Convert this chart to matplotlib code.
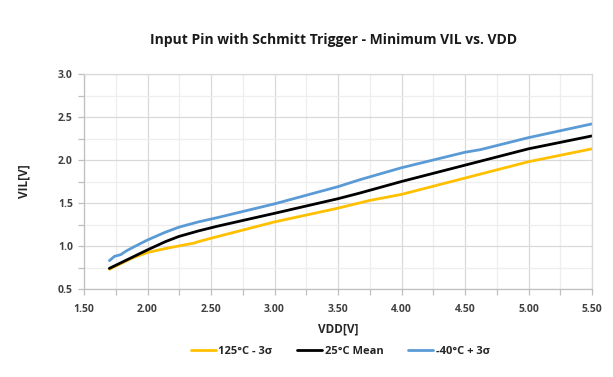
import matplotlib
matplotlib.use("Agg")
import matplotlib.pyplot as plt
from matplotlib.ticker import MultipleLocator, FormatStrFormatter

# ---- data ----
vdd_hot = [1.70, 1.88, 2.00, 2.14, 2.245, 2.37, 2.40, 2.50, 3.00, 3.50, 3.75, 4.00, 4.50, 5.00, 5.50]
vil_hot = [0.73, 0.86, 0.925, 0.97, 1.00, 1.035, 1.05, 1.09, 1.28, 1.44, 1.53, 1.60, 1.79, 1.98, 2.13]

vdd_mean = [1.70, 2.00, 2.14, 2.245, 2.40, 2.55, 3.00, 3.50, 3.67, 4.00, 4.50, 5.00, 5.50]
vil_mean = [0.74, 0.955, 1.05, 1.11, 1.175, 1.23, 1.38, 1.55, 1.615, 1.75, 1.94, 2.13, 2.28]

vdd_cold = [1.70, 1.74, 1.79, 1.83, 1.88, 2.00, 2.14, 2.25, 2.40, 2.55, 3.00, 3.50, 3.67, 4.00, 4.50, 4.62, 5.00, 5.50]
vil_cold = [0.83, 0.88, 0.90, 0.94, 0.98, 1.07, 1.16, 1.22, 1.28, 1.33, 1.49, 1.69, 1.77, 1.91, 2.09, 2.12, 2.26, 2.42]

series_labels = ["125°C - 3σ", "25°C Mean", "-40°C + 3σ"]
series_colors = ["#FFC000", "#000000", "#5B9BD5"]

title = "Input Pin with Schmitt Trigger - Minimum VIL vs. VDD"
xlabel = "VDD[V]"
ylabel = "VIL[V]"

plt.rcParams['font.family'] = ['Open Sans', 'DejaVu Sans']

fig = plt.figure(figsize=(6.13, 3.77), dpi=100)
ax = fig.add_axes([84/613, 1-289/377, (592-84)/613, (289-74)/377])

for xs, ys, lab, col in zip([vdd_hot, vdd_mean, vdd_cold],
                            [vil_hot, vil_mean, vil_cold],
                            series_labels, series_colors):
    ax.plot(xs, ys, color=col, lw=2.0, label=lab, solid_capstyle='round')

ax.set_xlim(1.5, 5.5)
ax.set_ylim(0.5, 3.0)
ax.xaxis.set_major_locator(MultipleLocator(0.5))
ax.xaxis.set_minor_locator(MultipleLocator(0.25))
ax.yaxis.set_major_locator(MultipleLocator(0.5))
ax.yaxis.set_minor_locator(MultipleLocator(0.25))
ax.xaxis.set_major_formatter(FormatStrFormatter('%.2f'))
ax.yaxis.set_major_formatter(FormatStrFormatter('%.1f'))

ax.grid(which='major', color='#d9d9d9', lw=0.9)
ax.grid(which='minor', color='#eeeeee', lw=0.9)
ax.set_axisbelow(True)

for s in ['top', 'right']:
    ax.spines[s].set_color('#d9d9d9')
for s in ['left', 'bottom']:
    ax.spines[s].set_color('#bfbfbf')
for s in ax.spines.values():
    s.set_linewidth(0.9)

ax.tick_params(which='both', direction='out', length=4, color='#bfbfbf', width=0.9)
ax.tick_params(axis='both', labelsize=7.5, pad=4)
for lbl in ax.get_xticklabels() + ax.get_yticklabels():
    lbl.set_fontweight('bold')
    lbl.set_color('#404040')
ax.tick_params(axis='x', pad=7)

fig.text(333/613, 1-40/377, title, ha='center', va='center', fontsize=10, fontweight='bold', color='#1a1a1a')
ax.set_xlabel(xlabel, fontsize=8.5, fontweight='bold', color='#262626', labelpad=5)
ax.set_ylabel(ylabel, fontsize=8.5, fontweight='bold', color='#262626', labelpad=20)

leg = fig.legend(loc='center', bbox_to_anchor=(340/613, 1-351/377), ncol=3, frameon=False,
                 handlelength=2.3, handletextpad=0.2, columnspacing=2.2,
                 prop={'size': 8, 'weight': 'bold'})
for t in leg.get_texts():
    t.set_color('#262626')

fig.savefig("out.png", dpi=100)
